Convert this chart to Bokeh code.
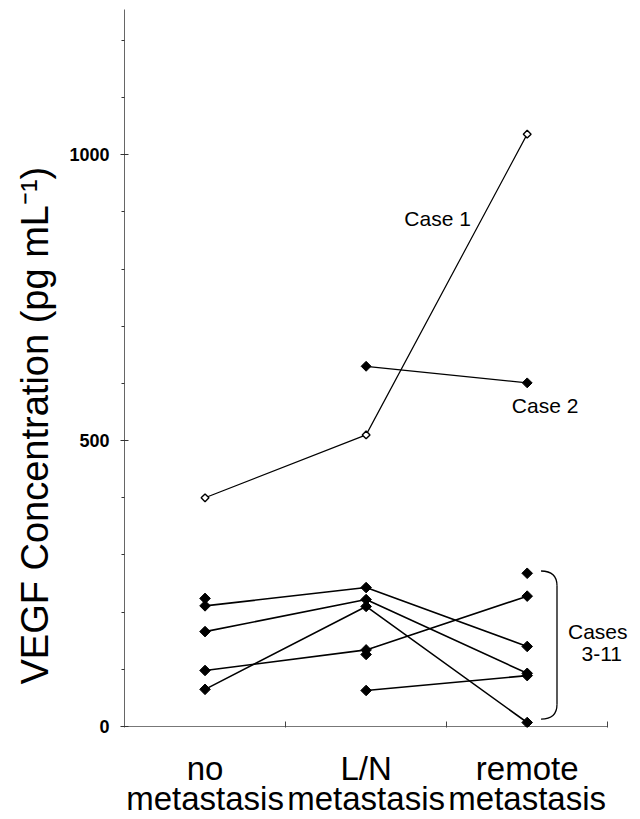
import numpy as np
from bokeh.plotting import figure
from bokeh.models import FixedTicker, Title, Label
from bokeh.embed import file_html
from bokeh.resources import INLINE

nan = np.nan

# categories (x positions 0, 1, 2)
categories = ["no\nmetastasis", "L/N\nmetastasis", "remote\nmetastasis"]
cat_x = [0, 1, 2]

# VEGF concentration (pg/mL) per case; NaN = not measured
case1 = [400, 510, 1036]
case2 = [nan, 630, 601]
case3 = [211, 243, 140]
case4 = [166, 222, 93]
case5 = [65, 210, 7]
case6 = [98, 134, 228]
case7 = [224, nan, nan]
case8 = [nan, 126, nan]
case9 = [nan, 63, 89]
case10 = [nan, nan, 268]
cases_3_11 = [case3, case4, case5, case6, case7, case8, case9, case10]

y_major = [0, 500, 1000]
y_minor = [100, 200, 300, 400, 600, 700, 800, 900, 1100, 1200]

FONT = "Liberation Sans"

x_lo = cat_x[0] - 0.5
x_hi = cat_x[-1] + 0.5

p = figure(width=640, height=819, x_range=(x_lo, 2.691), y_range=(-1.74, 1254),
           output_backend="svg", toolbar_location=None, title=None,
           min_border_left=121, min_border_right=2, min_border_top=9,
           min_border_bottom=88)
p.grid.visible = False
p.outline_line_color = None
p.background_fill_color = "white"
p.border_fill_color = "white"

# x axis
xa = p.xaxis[0]
xa.ticker = FixedTicker(ticks=cat_x, minor_ticks=[0.5, 1.5, 2.5])
xa.major_label_overrides = {i: c for i, c in zip(cat_x, categories)}
xa.major_tick_in = 0
xa.major_tick_out = 0
xa.minor_tick_in = 6
xa.minor_tick_out = 0
xa.minor_tick_line_color = "#444444"
xa.axis_line_color = None
xa.major_label_text_font = FONT
xa.major_label_text_font_size = "33px"
xa.major_label_text_color = "black"
xa.major_label_text_line_height = 0.82
xa.major_label_standoff = 22

# visible part of the x axis line (from -0.5 to 2.5)
p.segment(x0=[x_lo], y0=[0], x1=[x_hi], y1=[0], line_color="#777777", line_width=1)

# y axis
ya = p.yaxis[0]
ya.ticker = FixedTicker(ticks=y_major, minor_ticks=y_minor)
ya.major_tick_in = 4
ya.major_tick_out = 4
ya.minor_tick_in = 0
ya.minor_tick_out = 3
ya.axis_line_color = "#666666"
ya.major_tick_line_color = "#333333"
ya.minor_tick_line_color = "#333333"
ya.major_label_text_font = FONT
ya.major_label_text_font_size = "18px"
ya.major_label_text_font_style = "bold"
ya.major_label_text_color = "black"
ya.major_label_standoff = 11

ytitle = Title(text="VEGF Concentration (pg mL\u207b\u00b9)", align="left", offset=43,
               text_font=FONT, text_font_size="38px", text_font_style="normal",
               text_color="black", standoff=22)
p.add_layout(ytitle, "left")

# case lines and markers
for vals in cases_3_11:
    p.line(cat_x, np.array(vals, dtype=float), line_color="black", line_width=1.6)
    p.scatter(cat_x, np.array(vals, dtype=float), marker="square", angle=np.pi / 4,
              size=7.5, fill_color="black", line_color="black")

p.line(cat_x, np.array(case2, dtype=float), line_color="black", line_width=1.3)
p.scatter(cat_x, np.array(case2, dtype=float), marker="square", angle=np.pi / 4,
          size=7, fill_color="black", line_color="black")

p.line(cat_x, np.array(case1, dtype=float), line_color="black", line_width=1.2)
p.scatter(cat_x, np.array(case1, dtype=float), marker="square", angle=np.pi / 4,
          size=5.5, fill_color="white", line_color="black", line_width=1.4)

# bracket around remote values of cases 3-11
remote_vals = [c[2] for c in cases_3_11 if not np.isnan(c[2])]
top = max(remote_vals) + 4
bot = min(remote_vals) + 6
xl, xr = 2.086, 2.185
r = 26
p.quadratic(x0=[xl], y0=[top], x1=[xr], y1=[top - r], cx=[xr], cy=[top],
            line_color="black", line_width=1.3)
p.line([xr, xr], [top - r, bot + r], line_color="black", line_width=1.3)
p.quadratic(x0=[xr], y0=[bot + r], x1=[xl], y1=[bot], cx=[xr], cy=[bot],
            line_color="black", line_width=1.3)

def lab(x, y, t, align="center"):
    p.add_layout(Label(x=x, y=y, text=t, text_font=FONT, text_font_size="21px",
                       text_align=align, text_baseline="middle", text_color="black"))

lab(1.444, 889, "Case 1")
lab(2.111, 562, "Case 2")
lab(2.438, 167, "Cases")
lab(2.463, 127, "3-11")

open("out.html", "w").write(file_html(p, INLINE))
